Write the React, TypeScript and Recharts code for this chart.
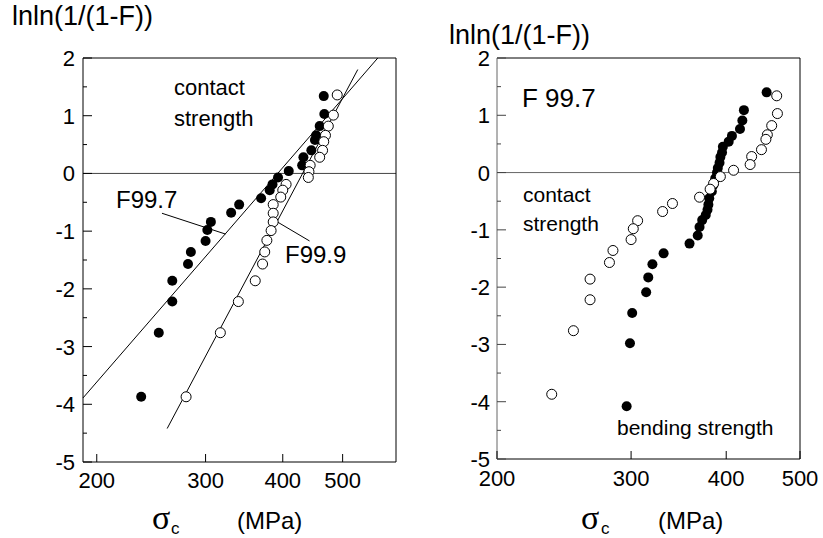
import { ScatterChart, Scatter, XAxis, YAxis, ReferenceLine } from 'recharts'

const FONT = '"Liberation Sans", Arial, sans-serif'

// contact strength, F99.7 (filled, left) / open circles on the right
const contactSigma = [466, 467, 459, 453, 451, 445, 432, 430, 409, 393, 385, 381, 369, 340, 330, 306, 302, 300, 284, 281, 265, 265, 252, 236]
const contactLnln = [1.34, 1.03, 0.82, 0.66, 0.58, 0.4, 0.28, 0.14, 0.04, -0.07, -0.19, -0.29, -0.43, -0.54, -0.68, -0.84, -0.98, -1.17, -1.36, -1.57, -1.86, -2.22, -2.76, -3.87]

// contact strength, F99.9 (open, left)
const f999Sigma = [490, 483, 474, 469, 466, 464, 459, 443, 441, 440, 405, 400, 397, 386, 386, 386, 383, 377, 374, 371, 361, 339, 317, 279]
const f999Lnln = [1.36, 1.01, 0.82, 0.66, 0.55, 0.4, 0.28, 0.14, 0.03, -0.07, -0.19, -0.29, -0.41, -0.54, -0.69, -0.84, -0.99, -1.16, -1.36, -1.57, -1.86, -2.22, -2.76, -3.87]

// bending strength (filled, right)
const bendSigma = [452, 422, 420, 417, 407, 403, 396, 395, 393, 392, 390, 389, 387, 385, 383, 380, 379, 378, 376, 372, 369, 367, 358, 331, 320, 316, 314, 301, 299, 296]
const bendLnln = [1.4, 1.09, 0.91, 0.76, 0.64, 0.54, 0.45, 0.35, 0.27, 0.17, 0.08, 0.0, -0.1, -0.21, -0.33, -0.45, -0.56, -0.65, -0.74, -0.83, -0.95, -1.1, -1.24, -1.41, -1.6, -1.83, -2.09, -2.45, -2.98, -4.08]

// fitted lines and label leaders: [sigma, lnln] end points
const fitF997 = [[190, -3.89], [570, 2]]
const fitF999 = [[260, -4.42], [529, 1.8]]
const leaderF997 = [[255, -0.69], [323, -1.05]]
const leaderF999 = [[392, -0.84], [442, -1.17]]

const xTicks = [200, 300, 400, 500]
const yTicks = [-5, -4.5, -4, -3.5, -3, -2.5, -2, -1.5, -1, -0.5, 0, 0.5, 1, 1.5, 2]

const zip = (s: number[], v: number[]) => s.map((x, i) => ({ s: x, v: v[i] }))
const seg = (p: number[][]) => p.map(([x, y]) => ({ x, y }))

const Filled = (p: any) => <circle cx={p.cx} cy={p.cy} r={5} fill="#000" />
const Open = (p: any) => <circle cx={p.cx} cy={p.cy} r={5} fill="#fff" stroke="#000" strokeWidth={1} />

const makeYTick = (gap: number, stroke: string) => (p: any) => {
  const v = p.payload.value
  const major = Number.isInteger(v)
  return (
    <g>
      <line x1={p.x} x2={p.x + (major ? 9 : 4)} y1={p.y} y2={p.y} stroke={stroke} />
      {major && (
        <text x={p.x - gap} y={p.y + 8} textAnchor="end" fontSize={22} fontFamily={FONT} fill="#000">
          {String(v)}
        </text>
      )}
    </g>
  )
}

const makeXTick = (dy: number) => (p: any) => (
  <g>
    <line x1={p.x} x2={p.x} y1={p.y} y2={p.y - 8} stroke="#000" />
    <text x={p.x} y={p.y + dy} textAnchor="middle" fontSize={22} fontFamily={FONT} fill="#000">
      {p.payload.value}
    </text>
  </g>
)

function LeftPanel() {
  return (
    <ScatterChart width={420} height={538} margin={{ top: 58, right: 24, bottom: 0, left: 0 }}>
      <XAxis type="number" dataKey="s" scale="log" domain={[190, 610]} allowDataOverflow ticks={xTicks} interval={0}
        height={76} tickSize={0} tickMargin={0} axisLine={{ stroke: '#000' }} tickLine={false} tick={makeXTick(26)} />
      <YAxis type="number" dataKey="v" domain={[-5, 2]} allowDataOverflow ticks={yTicks} interval={0}
        width={83} tickSize={0} tickMargin={0} axisLine={{ stroke: '#000' }} tickLine={false} tick={makeYTick(8, '#000')} />
      <ReferenceLine y={0} stroke="#444" />
      <ReferenceLine y={2} stroke="#000" />
      <ReferenceLine x={610} stroke="#000" />
      <ReferenceLine segment={seg(fitF997)} stroke="#000" ifOverflow="visible" />
      <ReferenceLine segment={seg(fitF999)} stroke="#000" ifOverflow="visible" />
      <ReferenceLine segment={seg(leaderF997)} stroke="#000" ifOverflow="visible" />
      <ReferenceLine segment={seg(leaderF999)} stroke="#000" ifOverflow="visible" />
      <Scatter data={zip(contactSigma, contactLnln)} shape={Filled} isAnimationActive={false} />
      <Scatter data={zip(f999Sigma, f999Lnln)} shape={Open} isAnimationActive={false} />
    </ScatterChart>
  )
}

function RightPanel() {
  return (
    <ScatterChart width={403} height={538} margin={{ top: 58, right: 23, bottom: 0, left: 0 }}>
      <XAxis type="number" dataKey="s" scale="log" domain={[200, 500]} allowDataOverflow ticks={xTicks} interval={0}
        height={79} tickSize={0} tickMargin={0} axisLine={{ stroke: '#000' }} tickLine={false} tick={makeXTick(27)} />
      <YAxis type="number" dataKey="v" domain={[-5, 2]} allowDataOverflow ticks={yTicks} interval={0}
        width={77} tickSize={0} tickMargin={0} axisLine={{ stroke: '#666' }} tickLine={false} tick={makeYTick(7, '#444')} />
      <ReferenceLine y={0} stroke="#666" />
      <ReferenceLine y={2} stroke="#000" />
      <ReferenceLine x={500} stroke="#000" />
      <Scatter data={zip(bendSigma, bendLnln)} shape={Filled} isAnimationActive={false} />
      <Scatter data={zip(contactSigma, contactLnln)} shape={Open} isAnimationActive={false} />
    </ScatterChart>
  )
}

function Texts() {
  const t = { fontFamily: FONT, fill: '#000' }
  const serif = '"Liberation Serif", "Times New Roman", serif'
  return (
    <svg width={823} height={538} style={{ position: 'absolute', left: 0, top: 0, pointerEvents: 'none' }}>
      <text x={12} y={25} fontSize={27} {...t}>lnln(1/(1-F))</text>
      <text x={449} y={44} fontSize={27} {...t}>lnln(1/(1-F))</text>

      <text x={174} y={95} fontSize={22} {...t}>contact</text>
      <text x={174} y={126} fontSize={22} {...t}>strength</text>
      <text x={116} y={208} fontSize={24} {...t}>F99.7</text>
      <text x={285} y={263} fontSize={24} {...t}>F99.9</text>

      <text x={522} y={107} fontSize={26} {...t}>F 99.7</text>
      <text x={523} y={202} fontSize={21} {...t}>contact</text>
      <text x={523} y={231} fontSize={21} {...t}>strength</text>
      <text x={617} y={435} fontSize={21} {...t}>bending strength</text>

      <text x={152} y={529} fontSize={34} fontFamily={serif}>σ</text>
      <text x={171} y={534} fontSize={17} {...t}>c</text>
      <text x={237} y={529} fontSize={24} {...t}>(MPa)</text>

      <text x={581} y={529} fontSize={34} fontFamily={serif}>σ</text>
      <text x={601} y={534} fontSize={17} {...t}>c</text>
      <text x={658} y={529} fontSize={24} {...t}>(MPa)</text>
    </svg>
  )
}

export default function App() {
  return (
    <div style={{ position: 'absolute', left: 0, top: 0, width: 823, height: 538, background: '#fff' }}>
      <div style={{ position: 'absolute', left: 0, top: 0 }}>
        <LeftPanel />
      </div>
      <div style={{ position: 'absolute', left: 420, top: 0 }}>
        <RightPanel />
      </div>
      <Texts />
    </div>
  )
}
